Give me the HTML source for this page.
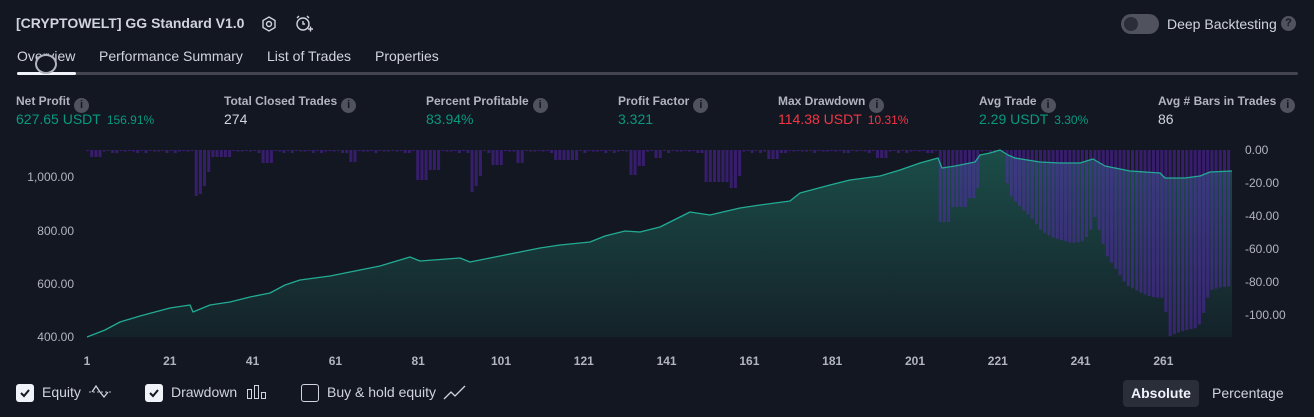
<!DOCTYPE html>
<html><head><meta charset="utf-8"><style>
*{margin:0;padding:0;box-sizing:border-box}
body{width:1314px;height:417px;background:#131722;font-family:"Liberation Sans",sans-serif;color:#d1d4dc;position:relative;overflow:hidden}
.a{position:absolute;white-space:nowrap}
.lbl{font-size:12px;font-weight:bold;color:#b2b5be}
.val{font-size:14px}
.g{color:#089981}.r{color:#f23645}
.i{display:inline-block;width:15px;height:15px;border-radius:50%;background:#50535e;color:#131722;font-size:11px;text-align:center;line-height:15px;vertical-align:-3px;margin-left:4px;font-weight:bold}
.sm{font-size:12px;margin-left:6px}
.ax{font-size:12px;color:#b2b5be}
.xl{font-size:12px;font-weight:bold;color:#b2b5be}
.cb{position:absolute;width:18px;height:18px;border-radius:3px;background:#f0f3fa;top:384px}
.cb.e{background:none;border:1.5px solid #d1d4dc}
.leg{font-size:14px;top:384px}
</style></head><body>
<div class="a" style="left:16px;top:15px;font-size:14px;font-weight:bold">[CRYPTOWELT] GG Standard V1.0</div>
<svg class="a" style="left:260px;top:15px" width="18" height="18" viewBox="0 0 18 18"><polygon points="9,2 15,5.5 15,12.5 9,16 3,12.5 3,5.5" fill="none" stroke="#d1d4dc" stroke-width="1.4"/><circle cx="9" cy="9" r="2.5" fill="none" stroke="#d1d4dc" stroke-width="1.4"/></svg>
<svg class="a" style="left:294px;top:14px" width="20" height="20" viewBox="0 0 20 20"><circle cx="9" cy="10" r="6" fill="none" stroke="#d1d4dc" stroke-width="1.4"/><path d="M9 7v3h2M3 4l2-2M15 4l-2-2M14 15h5M16.5 12.5v5" stroke="#d1d4dc" stroke-width="1.4" fill="none"/></svg>
<div class="a" style="left:1121px;top:14px;width:38px;height:20px;border-radius:10px;background:#50535e"></div>
<div class="a" style="left:1124px;top:17px;width:14px;height:14px;border-radius:50%;background:#2a2e39"></div>
<div class="a" style="left:1167px;top:16px;font-size:14px">Deep Backtesting</div>
<div class="a" style="left:1281px;top:16px;width:15px;height:15px;border-radius:50%;background:#50535e;color:#131722;font-size:11px;text-align:center;line-height:15px;font-weight:bold">?</div>
<div class="a" style="left:17px;top:48px;font-size:14px">Overview</div>
<div class="a" style="left:99px;top:48px;font-size:14px">Performance Summary</div>
<div class="a" style="left:267px;top:48px;font-size:14px">List of Trades</div>
<div class="a" style="left:375px;top:48px;font-size:14px">Properties</div>
<div class="a" style="left:17px;top:72px;width:1281px;height:3px;border-radius:2px;background:#434651"></div>
<div class="a" style="left:17px;top:72px;width:59px;height:3px;border-radius:2px;background:#f0f3fa"></div>
<div class="a" style="left:35px;top:54px;width:22px;height:20px;border-radius:50%;border:2px solid #b2b5be;background:#131722"></div>

<div class="a lbl" style="left:16px;top:94px">Net Profit<span class="i">i</span></div>
<div class="a val g" style="left:16px;top:111px">627.65 USDT<span class="sm">156.91%</span></div>
<div class="a lbl" style="left:224px;top:94px">Total Closed Trades<span class="i">i</span></div>
<div class="a val" style="left:224px;top:111px">274</div>
<div class="a lbl" style="left:426px;top:94px">Percent Profitable<span class="i">i</span></div>
<div class="a val g" style="left:426px;top:111px">83.94%</div>
<div class="a lbl" style="left:618px;top:94px">Profit Factor<span class="i">i</span></div>
<div class="a val g" style="left:618px;top:111px">3.321</div>
<div class="a lbl" style="left:778px;top:94px">Max Drawdown<span class="i">i</span></div>
<div class="a val r" style="left:778px;top:111px">114.38 USDT<span class="sm">10.31%</span></div>
<div class="a lbl" style="left:979px;top:94px">Avg Trade<span class="i">i</span></div>
<div class="a val g" style="left:979px;top:111px">2.29 USDT<span class="sm">3.30%</span></div>
<div class="a lbl" style="left:1158px;top:94px">Avg # Bars in Trades<span class="i">i</span></div>
<div class="a val" style="left:1158px;top:111px">86</div>

<svg class="a" style="left:0;top:0" width="1314" height="417" id="ch">
<defs><linearGradient id="gr" x1="0" y1="0" x2="0" y2="1"><stop offset="0" stop-color="#1b4d48"/><stop offset="1" stop-color="#142229"/></linearGradient></defs>
<polygon id="area" fill="url(#gr)"/>
<g id="bars" fill="rgba(100,40,200,0.45)"></g>
<polyline id="line" fill="none" stroke="#22ab94" stroke-width="1.3" stroke-linejoin="round"/>
</svg>

<div class="a ax" style="right:1240px;top:170px">1,000.00</div>
<div class="a ax" style="right:1240px;top:224px">800.00</div>
<div class="a ax" style="right:1240px;top:277px">600.00</div>
<div class="a ax" style="right:1240px;top:330px">400.00</div>
<div class="a ax" style="left:1245px;top:143px">0.00</div>
<div class="a ax" style="left:1245px;top:176px">-20.00</div>
<div class="a ax" style="left:1245px;top:209px">-40.00</div>
<div class="a ax" style="left:1245px;top:242px">-60.00</div>
<div class="a ax" style="left:1245px;top:275px">-80.00</div>
<div class="a ax" style="left:1245px;top:308px">-100.00</div>
<div id="xl"></div>

<div class="cb" style="left:16px"></div><svg class="a" style="left:19px;top:387px" width="12" height="12"><path d="M2 6l3 3 5-6" stroke="#131722" stroke-width="2" fill="none"/></svg>
<div class="a leg" style="left:42px">Equity</div>
<svg class="a" style="left:88px;top:383px" width="24" height="18"><path d="M1 9h22" stroke="#b2b5be" stroke-dasharray="2 2"/><path d="M4 9l4-6 4 6 4 5 4-5" stroke="#d1d4dc" fill="none" stroke-width="1.3"/></svg>
<div class="cb" style="left:145px"></div><svg class="a" style="left:148px;top:387px" width="12" height="12"><path d="M2 6l3 3 5-6" stroke="#131722" stroke-width="2" fill="none"/></svg>
<div class="a leg" style="left:171px">Drawdown</div>
<svg class="a" style="left:246px;top:383px" width="22" height="18"><rect x="1.5" y="6.5" width="4" height="9" fill="none" stroke="#d1d4dc"/><rect x="8.5" y="2.5" width="4" height="13" fill="none" stroke="#d1d4dc"/><rect x="15.5" y="9.5" width="4" height="6" fill="none" stroke="#d1d4dc"/></svg>
<div class="cb e" style="left:301px"></div>
<div class="a leg" style="left:327px">Buy &amp; hold equity</div>
<svg class="a" style="left:443px;top:383px" width="24" height="18"><path d="M1 16l7-7 4 4 10-10" stroke="#d1d4dc" fill="none" stroke-width="1.3"/></svg>
<div class="a" style="left:1123px;top:380px;width:76px;height:27px;border-radius:4px;background:#2a2e39"></div>
<div class="a" style="left:1131px;top:385px;font-size:14px;font-weight:bold;color:#f0f3fa">Absolute</div>
<div class="a" style="left:1212px;top:385px;font-size:14px">Percentage</div>

<script>
var eq=[[87,337],[105,330],[120,322],[140,316],[170,308],[190,305],[193,312],[210,305],[230,302],[250,297],[270,293],[285,285],[300,280],[330,276],[350,272],[380,266],[410,257],[420,261],[460,258],[470,262],[500,256],[540,248],[560,245],[590,242],[605,236],[625,231],[640,232],[660,227],[680,217],[690,212],[710,215],[740,208],[760,205],[790,201],[800,193],[830,185],[850,180],[880,176],[900,170],[920,163],[938,158],[942,168],[955,166],[975,162],[980,155],[990,153],[1000,150],[1008,155],[1015,158],[1040,162],[1060,163],[1080,163],[1093,159],[1105,166],[1130,171],[1160,173],[1165,178],[1185,178],[1200,176],[1210,172],[1232,171]];
var s=eq.map(p=>p.join(',')).join(' ');
document.getElementById('line').setAttribute('points',s);
document.getElementById('area').setAttribute('points','87,337 '+s+' 1232,337');
var cl=[[87,100,157],[191,196,196],[196,200,194],[200,204,186],[204,208,172],[211,232,157],[258,270,163],[346,354,162],[416,426,180],[426,438,170],[467,472,192],[472,476,186],[476,480,176],[488,502,165],[513,522,163],[553,576,160],[626,634,175],[634,642,166],[651,661,158],[702,726,182],[726,735,188],[735,742,176],[764,777,159],[873,887,158],[938,951,222],[951,966,207],[966,974,198],[974,979,188]];
var env=[[1003,175],[1010,197],[1020,208],[1030,218],[1040,231],[1050,237],[1060,240],[1070,243],[1080,242],[1088,234],[1093,216],[1097,228],[1105,255],[1115,270],[1125,285],[1140,293],[1150,297],[1163,298],[1167,337],[1175,333],[1185,330],[1195,328],[1200,322],[1205,300],[1210,290],[1220,287],[1232,286]];
function interp(x){for(var k=0;k<env.length-1;k++){if(x>=env[k][0]&&x<=env[k+1][0]){var t=(x-env[k][0])/(env[k+1][0]-env[k][0]);return env[k][1]+t*(env[k+1][1]-env[k][1]);}}return null;}
var h='';
for(var i=0;i<274;i++){var x=86+i*4.18;var b=150+((i*7)%5<2?1:((i*13)%7<3?3:1.5));
cl.forEach(c=>{if(x>=c[0]&&x<c[1])b=c[2];});
if(x>=1003){var v=interp(x);if(v)b=v;}
h+='<rect x="'+x.toFixed(1)+'" y="150" width="3" height="'+(b-150).toFixed(1)+'"/>';}
document.getElementById('bars').innerHTML=h;
var xs='';[1,21,41,61,81,101,121,141,161,181,201,221,241,261].forEach(function(n,k){var x=87+(n-1)*4.14;xs+='<div class="a xl" style="left:'+(x-15)+'px;width:30px;text-align:center;top:354px">'+n+'</div>';});
document.getElementById('xl').innerHTML=xs;
</script>
</body></html>
